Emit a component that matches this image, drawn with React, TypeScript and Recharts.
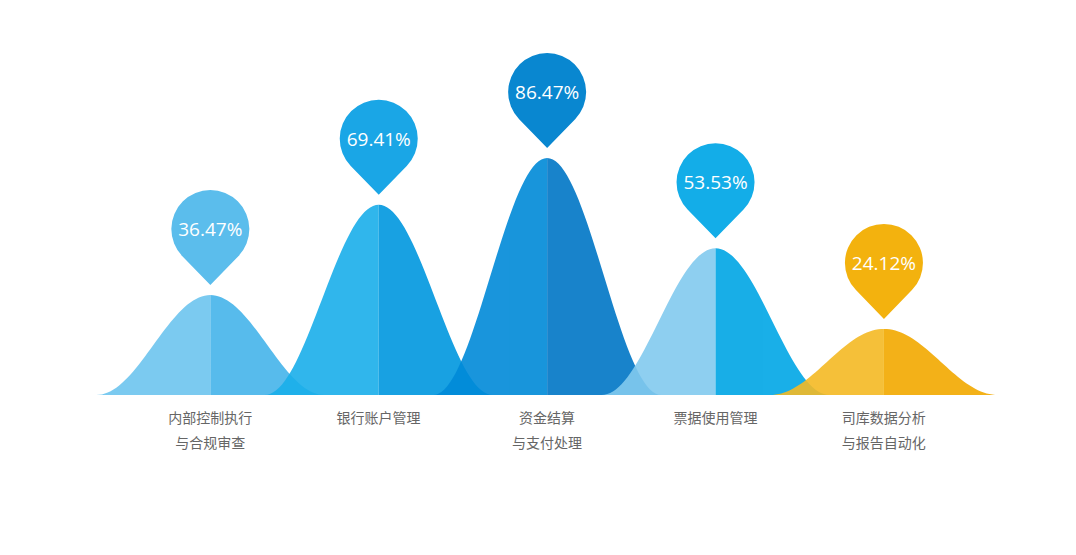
import { BarChart, Bar, XAxis, YAxis, LabelList } from "recharts";

const categories = [
  "内部控制执行\n与合规审查",
  "银行账户管理",
  "资金结算\n与支付处理",
  "票据使用管理",
  "司库数据分析\n与报告自动化",
];
const values = [36.47, 69.41, 86.47, 53.53, 24.12];

// left half / right half / pin colours per bell (bells drawn at 0.9 opacity)
const lightColors = ["#6dc5ef", "#1aafea", "#008ad8", "#82caef", "#f5ba24"];
const darkColors = ["#45b4ea", "#0097df", "#0076c6", "#00a6e5", "#f2a900"];
const pinColors = ["#5bbdec", "#1aa6e6", "#0987d0", "#13ade8", "#f3b20e"];

const data = categories.map((name, i) => ({ name, value: values[i] }));

const HALF_WIDTH = 114;
const STEPS = 40;

function bellPoints(cx: number, base: number, h: number, side: -1 | 1) {
  const pts: string[] = [];
  for (let s = 0; s <= STEPS; s++) {
    const t = (s / STEPS) * HALF_WIDTH;
    const y = base - (h * (1 + Math.cos((Math.PI * t) / HALF_WIDTH))) / 2;
    pts.push(`${(cx + side * t).toFixed(2)},${y.toFixed(2)}`);
  }
  return pts;
}

function BellShape(props: any) {
  const { x, y, width, height, index } = props;
  const cx = x + width / 2;
  const base = y + height;
  const left = bellPoints(cx, base, height, -1);
  const right = bellPoints(cx, base, height, 1);
  const leftPath = `M${cx},${base} L${left.join(" L")} Z`;
  const rightPath = `M${cx},${base} L${right.join(" L")} Z`;
  return (
    <g opacity={0.9}>
      <path d={leftPath} fill={lightColors[index]} />
      <path d={rightPath} fill={darkColors[index]} />
    </g>
  );
}

function PinLabel(props: any) {
  const { x, y, width, value, index } = props;
  const cx = x + width / 2;
  const tipY = y - 10;
  const r = 39;
  const d = 56;
  const cy = tipY - d;
  const ang = Math.acos(r / d);
  const dx = r * Math.sin(ang);
  const dy = r * Math.cos(ang);
  const path = `M${cx},${tipY} L${cx + dx},${cy + dy} A${r},${r} 0 1 0 ${cx - dx},${cy + dy} Z`;
  return (
    <g>
      <path d={path} fill={pinColors[index]} />
      <text
        x={cx}
        y={cy + 7}
        textAnchor="middle"
        fill="#ffffff"
        fontSize={19}
        fontFamily="'Open Sans', Lato, sans-serif"
      >
        {`${Number(value).toFixed(2)}%`}
      </text>
    </g>
  );
}

function CategoryTick(props: any) {
  const { x, y, payload } = props;
  const lines = String(payload.value).split("\n");
  return (
    <text
      x={x}
      y={y}
      textAnchor="middle"
      fill="#666666"
      fontSize={14}
      fontFamily="'Noto Sans CJK SC', sans-serif"
    >
      {lines.map((line, i) => (
        <tspan key={i} x={x} dy={i === 0 ? 20 : 25}>
          {line}
        </tspan>
      ))}
    </text>
  );
}

export default function App() {
  return (
    <div style={{ width: 1060, height: 540, background: "#fff" }}>
      <BarChart
        width={1060}
        height={540}
        data={data}
        margin={{ top: 113, right: 100, bottom: 93, left: 118 }}
        style={{ overflow: "visible" }}
      >
        <XAxis
          dataKey="name"
          axisLine={false}
          tickLine={false}
          interval={0}
          height={60}
          tick={<CategoryTick />}
        />
        <YAxis hide domain={[0, 100]} />
        <Bar
          dataKey="value"
          shape={<BellShape />}
          isAnimationActive={false}
        >
          <LabelList dataKey="value" content={<PinLabel />} />
        </Bar>
      </BarChart>
    </div>
  );
}
